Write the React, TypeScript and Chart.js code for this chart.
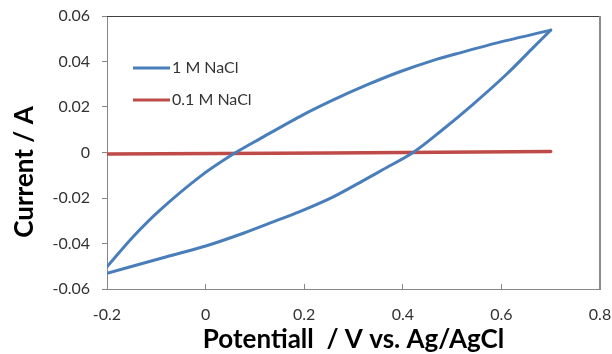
import { useEffect, useRef } from "react";
import { Chart, registerables } from "chart.js";

Chart.register(...registerables);

// Cyclic voltammogram, 1 M NaCl: anodic sweep (-0.2 V -> 0.7 V)
const forwardPotential = [-0.2, -0.147, -0.0925, -0.0114, 0.056, 0.11, 0.191, 0.259, 0.327, 0.394, 0.462, 0.516, 0.597, 0.7];
const forwardCurrent = [-0.0502, -0.037, -0.0253, -0.0106, -0.0007, 0.006, 0.0158, 0.0231, 0.0297, 0.0355, 0.0405, 0.0438, 0.0485, 0.0538];

// 1 M NaCl: cathodic sweep (0.7 V -> -0.2 V)
const reversePotential = [0.7, 0.665, 0.611, 0.543, 0.475, 0.421, 0.36, 0.327, 0.259, 0.191, 0.137, 0.0765, 0.002, -0.079, -0.2];
const reverseCurrent = [0.0538, 0.0462, 0.0345, 0.0213, 0.009, 0.0, -0.0075, -0.0115, -0.0195, -0.026, -0.0305, -0.0355, -0.041, -0.0458, -0.0531];

// 0.1 M NaCl
const dilutePotential = [-0.2, 0.25, 0.7];
const diluteCurrent = [-0.0007, -0.0002, 0.0004];

const seriesLabels = ["1 M NaCl", "0.1 M NaCl"];
const seriesColors = ["#4a7ebb", "#be4b48"];

const xTitle = "Potentiall  / V vs. Ag/AgCl";
const yTitle = "Current / A";

const FONT = "Lato, 'Liberation Sans', sans-serif";
const TEXT = "#333333";
const AXIS = "#868686";

const toPoints = (xs: number[], ys: number[]) => xs.map((x, i) => ({ x, y: ys[i] }));

// Plot frame, in-plot legend and axis titles
const decorations = {
  id: "decorations",
  afterDraw(chart: any) {
    const { ctx, chartArea: a } = chart;
    ctx.save();

    // top and right edges of the plot area
    ctx.strokeStyle = "#404040";
    ctx.lineWidth = 1;
    ctx.beginPath();
    ctx.moveTo(a.left, a.top + 0.5);
    ctx.lineTo(a.right, a.top + 0.5);
    ctx.stroke();
    ctx.strokeStyle = "#8c8c8c";
    ctx.lineWidth = 2;
    ctx.beginPath();
    ctx.moveTo(a.right, a.top);
    ctx.lineTo(a.right, a.bottom);
    ctx.stroke();

    // legend (one entry per label)
    const seen = new Set<string>();
    let row = 0;
    ctx.font = `16px ${FONT}`;
    ctx.textBaseline = "middle";
    ctx.textAlign = "left";
    for (const ds of chart.data.datasets) {
      if (seen.has(ds.label)) continue;
      seen.add(ds.label);
      const y = 68 + row * 32;
      ctx.strokeStyle = ds.borderColor;
      ctx.lineWidth = 3;
      ctx.beginPath();
      ctx.moveTo(133, y);
      ctx.lineTo(170, y);
      ctx.stroke();
      ctx.fillStyle = TEXT;
      ctx.fillText(ds.label, 172, y);
      row++;
    }

    // axis titles
    ctx.fillStyle = "#000000";
    ctx.font = `bold 26px ${FONT}`;
    ctx.textAlign = "center";
    ctx.textBaseline = "alphabetic";
    ctx.fillText(xTitle, (a.left + a.right) / 2, 348);
    ctx.translate(33, 172);
    ctx.rotate(-Math.PI / 2);
    ctx.fillText(yTitle, 0, 0);

    ctx.restore();
  },
};

export default function App() {
  const canvasRef = useRef<HTMLCanvasElement | null>(null);

  useEffect(() => {
    const canvas = canvasRef.current;
    if (!canvas) return;
    const line = (label: string, color: string, data: { x: number; y: number }[], width: number) => ({
      label,
      data,
      borderColor: color,
      backgroundColor: color,
      borderWidth: width,
      showLine: true,
      pointRadius: 0,
      pointHoverRadius: 0,
      tension: 0.3,
      fill: false,
      borderCapStyle: "round" as const,
      borderJoinStyle: "round" as const,
    });

    const chart = new Chart(canvas, {
      type: "scatter",
      data: {
        datasets: [
          line(seriesLabels[0], seriesColors[0], toPoints(forwardPotential, forwardCurrent), 3),
          line(seriesLabels[0], seriesColors[0], toPoints(reversePotential, reverseCurrent), 3),
          line(seriesLabels[1], seriesColors[1], toPoints(dilutePotential, diluteCurrent), 3.5),
        ],
      },
      options: {
        responsive: false,
        animation: false,
        events: [],
        layout: { padding: { top: 16, right: 12, left: 0, bottom: 0 } },
        plugins: { legend: { display: false }, tooltip: { enabled: false } },
        scales: {
          x: {
            type: "linear",
            min: -0.2,
            max: 0.8,
            ticks: {
              stepSize: 0.2,
              padding: 21,
              color: TEXT,
              font: { family: FONT, size: 16 },
              callback: (v: any) => String(Math.round(Number(v) * 10) / 10),
            },
            grid: { drawOnChartArea: false, drawTicks: true, tickLength: -5, color: AXIS },
            border: { display: true, color: AXIS, width: 1 },
            afterFit: (s: any) => {
              s.height = 65;
              s.paddingLeft = 0;
              s.paddingRight = 0;
            },
          },
          y: {
            type: "linear",
            min: -0.06,
            max: 0.06,
            ticks: {
              stepSize: 0.02,
              padding: 12,
              color: TEXT,
              font: { family: FONT, size: 16 },
              callback: (v: any) => String(Math.round(Number(v) * 100) / 100),
            },
            grid: { drawOnChartArea: false, drawTicks: true, tickLength: 5, color: AXIS },
            border: { display: true, color: AXIS, width: 1 },
            afterFit: (s: any) => {
              s.width = 107;
              s.paddingTop = 0;
              s.paddingBottom = 0;
            },
          },
        },
      },
      plugins: [decorations],
    });
    return () => chart.destroy();
  }, []);

  return (
    <div style={{ position: "absolute", left: 0, top: 0, width: 612, height: 354, background: "#ffffff" }}>
      <canvas ref={canvasRef} width={612} height={354} />
    </div>
  );
}
